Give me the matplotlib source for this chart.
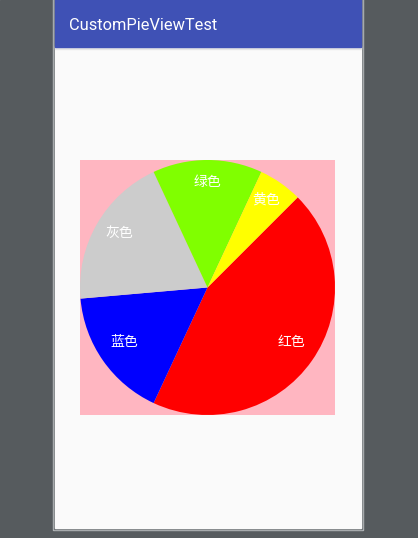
import matplotlib
matplotlib.use("Agg")
import matplotlib.pyplot as plt
from matplotlib.patches import Rectangle

# 饼图数据（按顺时针顺序，从红色开始）
labels = ["红色", "蓝色", "灰色", "绿色", "黄色"]
values = [160, 60, 70, 50, 20]
colors = ["#ff0000", "#0000ff", "#cccccc", "#80ff00", "#ffff00"]
title = "CustomPieViewTest"

W, H = 418, 538
fig = plt.figure(figsize=(W / 100, H / 100), dpi=100)

# 背景：模拟器外框 + 手机屏幕 + 标题栏（像素坐标）
bg = fig.add_axes([0, 0, 1, 1])
bg.set_xlim(0, W)
bg.set_ylim(H, 0)
bg.axis("off")
bg.add_patch(Rectangle((0, 0), W, H, color="#565b5e"))
bg.add_patch(Rectangle((53, -2), 310, 532, color="#b4b8ba"))
bg.add_patch(Rectangle((54, -2), 308, 531, color="#6e7376"))
bg.add_patch(Rectangle((55, -2), 306, 530, color="#fafafa"))
bg.add_patch(Rectangle((55, 46), 306, 3, color="#e6e6e6"))
bg.add_patch(Rectangle((55, -2), 306, 48.5, color="#3f51b5"))
bg.text(69, 25, title, color="white", fontsize=11.8, family="Roboto",
        ha="left", va="center")

# 饼图区域（粉色背景）
ax = fig.add_axes([80 / W, (H - 415) / H, 255 / W, 255 / H])
ax.set_facecolor("#ffb6c1")
wedges, texts = ax.pie(values, labels=labels, colors=colors,
                       startangle=45, counterclock=False, radius=1,
                       labeldistance=0.8, frame=True,
                       textprops=dict(color="white", fontsize=10,
                                      family=["Noto Sans CJK SC", "DejaVu Sans"]))
for t in texts:
    t.set_ha("center")
    t.set_va("baseline")
ax.set_xlim(-1, 1)
ax.set_ylim(-1, 1)
ax.set_xticks([])
ax.set_yticks([])
for s in ax.spines.values():
    s.set_visible(False)

fig.savefig("out.png", dpi=100)
